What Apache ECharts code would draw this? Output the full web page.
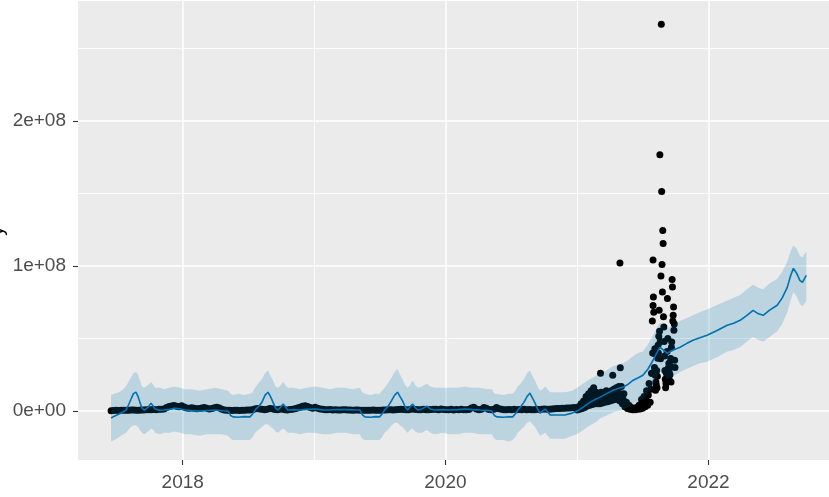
<!DOCTYPE html>
<html><head><meta charset="utf-8">
<script src="https://cdn.jsdelivr.net/npm/echarts@6/dist/echarts.min.js"></script>
<style>html,body{margin:0;padding:0;background:#fff}#c{width:829px;height:497px}</style>
</head><body><div id="c"></div>
<script>
// ---------- DATA (values in millions) ----------
const fcDates = [
'2017-06-16','2017-06-25','2017-07-08','2017-07-20','2017-07-27','2017-08-03','2017-08-10','2017-08-17','2017-08-24','2017-08-30',
'2017-09-04','2017-09-10','2017-09-16','2017-09-27','2017-10-05','2017-10-12','2017-10-16','2017-10-30','2017-11-10','2017-11-25',
'2017-12-09','2017-12-25','2018-01-07','2018-01-25','2018-02-18','2018-03-10','2018-04-01','2018-04-20','2018-05-07','2018-05-14',
'2018-05-21','2018-06-05','2018-06-20','2018-07-07','2018-07-14','2018-07-21','2018-07-30','2018-08-09','2018-08-18','2018-08-26',
'2018-09-02','2018-09-09','2018-09-16','2018-09-23','2018-10-01','2018-10-07','2018-10-13','2018-10-20','2018-11-05','2018-11-23',
'2018-12-10','2019-01-03','2019-01-25','2019-02-14','2019-03-05','2019-03-28','2019-04-18','2019-05-08','2019-05-15','2019-05-22',
'2019-06-08','2019-06-20','2019-07-02','2019-07-09','2019-07-16','2019-07-25','2019-08-04','2019-08-13','2019-08-21','2019-08-28',
'2019-09-04','2019-09-11','2019-09-18','2019-09-25','2019-10-02','2019-10-09','2019-10-16','2019-10-28','2019-11-10','2019-11-20',
'2019-12-02','2019-12-25','2020-01-13','2020-02-05','2020-02-24','2020-03-15','2020-04-06','2020-04-25','2020-05-09','2020-05-16',
'2020-05-23','2020-06-10','2020-06-25','2020-07-06','2020-07-13','2020-07-20','2020-07-28','2020-08-06','2020-08-15','2020-08-23',
'2020-08-30','2020-09-06','2020-09-13','2020-09-20','2020-09-27','2020-10-04','2020-10-11','2020-10-18','2020-11-05','2020-11-28',
'2020-12-18','2021-01-01','2021-01-18','2021-02-05','2021-02-20','2021-03-06','2021-03-24','2021-04-11','2021-04-25','2021-05-09',
'2021-05-23','2021-06-06','2021-06-20','2021-07-03','2021-07-17','2021-07-31','2021-08-10','2021-08-19','2021-08-29','2021-09-08',
'2021-09-24','2021-10-14','2021-11-01','2021-11-19','2021-12-08','2021-12-28','2022-01-25','2022-02-22','2022-03-12','2022-03-30',
'2022-04-18','2022-05-05','2022-05-20','2022-06-02','2022-06-20','2022-07-11','2022-07-25','2022-08-08','2022-08-17','2022-08-25',
'2022-09-03','2022-09-12','2022-09-19','2022-09-30'];
const yhat = [
-4.8,-3.5,-2,-0.5,0.7,4,8,12,13,10,
6,2,0.7,2.7,5.5,3,1.4,0.5,0.7,1.2,
2,1.5,0.7,0.3,0,0.4,0.7,0.2,0,-3,
-4,-4.2,-3.8,-4,-2,0.7,3,6,11,13,
10,6,2,0.7,3,4.8,3,0.7,1,0.7,
1.2,1.4,0.8,0.7,1.1,1,0.8,0.7,-2.5,-4,
-4.3,-3.8,-4,-2,0.7,3,7,11,13,10,
7,3,0.7,3,4.8,2.5,0.7,1.5,3.4,1.5,
0.7,1,0.7,1,1.4,1,0.7,0.5,0,-3,
-4,-4.2,-3.9,-4,-2,0.7,3,6,10,12.4,
9,5.5,1.5,-1.4,0,1.4,-0.5,-2.7,-2.7,-2.7,
-1.4,0,2.7,6,8,9.6,12,14.4,15.5,16.5,
18.5,21.3,23,24.7,29,35,40,44,42,39.9,
41.9,44,46.5,48.8,50.5,52.2,55.5,59.1,60.5,62.5,
66,69.4,67,66,69.5,72.9,78,85.2,93,98.3,
95,90,88.7,93.5];
const yhatLower = [
-21,-20,-18,-16,-15,-13,-11,-10,-10,-11,
-13,-15,-16,-14,-12,-13,-15,-16,-15,-15,
-14,-15,-16,-16,-17,-16,-16,-16,-17,-19,
-20,-20,-20,-20,-18,-15,-13,-11,-9,-9,
-11,-12,-14,-15,-13,-12,-13,-15,-15,-16,
-15,-15,-16,-16,-15,-15,-16,-16,-19,-20,
-20,-20,-20,-18,-15,-13,-10,-8,-8,-10,
-11,-13,-15,-13,-12,-14,-15,-15,-13,-15,
-16,-15,-16,-16,-15,-15,-16,-16,-16,-19,
-20,-20,-21,-20,-18,-15,-13,-11,-8,-7,
-9,-11,-14,-17,-16,-15,-17,-19,-19,-19,
-17,-16,-13,-10,-8,-5,-3,-1,0,1,
3,5,7,8,12,18,23,27,25,22,
24,27,29,31,33,34,37,41,42,44,
48,51,49,48,51,55,60,68,76,82,
79,74,72,76];
const yhatUpper = [
11,12,13,15,17,20,23,26,27,25,
21,17,16,18,20,18,16,16,15,16,
17,16,15,15,14,15,16,15,14,12,
11,12,11,12,13,16,19,22,26,28,
24,21,17,16,18,20,18,16,16,15,
16,17,16,15,16,16,15,16,13,12,
11,12,12,14,16,19,23,27,29,25,
22,18,16,18,21,18,16,17,19,17,
16,16,16,16,17,16,16,15,15,12,
12,11,12,12,14,17,19,22,26,28,
24,21,17,14,15,17,15,13,13,13,
14,16,19,22,24,26,28,31,32,33,
35,38,40,41,46,52,57,61,59,57,
59,62,64,66,68,70,73,76,78,80,
84,87,85,84,88,91,96,103,110,114,
112,107,106,110];

// Observed history, weekly from 2017-06-16 to 2020-12-25 (millions)
const obsWeeklyStart = '2017-06-16';
const obsWeeklyValues = [
0.3,0.4,0.5, 0.4,0.5,0.6,0.5, 0.6,0.7,0.8,0.6, 0.5,0.7,0.8,0.9,1.0, 0.9,1.1,1.0,1.2, 1.3,1.5,2.5,3.2, 3.5,3.8,3.4,3.0,3.6,
2.8,2.2,1.9,2.3, 2.0,1.6,1.8,2.2, 2.4,1.9,1.5,1.7,2.3, 2.6,2.1,1.2,0.8, 0.6,0.5,0.4,0.5, 0.6,0.4,0.5,0.6,0.7, 0.8,1.0,1.4,1.8,
1.5,1.2,1.0,1.3,1.8, 1.6,1.1,0.9,1.2, 1.4,1.0,0.8,1.1, 1.3,1.6,2.1,2.6,3.3, 3.6,3.2,2.4,2.0,
2.6,1.9,1.4,1.2, 1.0,0.9,1.1,0.8, 0.9,0.8,0.7,0.9,1.0, 0.8,0.7,0.6,0.8, 0.7,0.6,0.5,0.6,0.5, 0.6,0.7,0.6,0.5,
0.6,0.7,0.8,0.9, 1.0,0.8,0.9,1.1,1.3, 1.1,0.9,1.0,1.2, 1.4,1.1,0.9,1.0, 1.2,1.0,0.9,1.1,1.3, 1.2,1.0,1.5,1.1,
0.9,1.0,1.2,0.8,1.1, 1.0,1.3,1.0,0.9, 1.1,2.2,2.6,1.4, 1.0,1.2,2.4,2.0, 1.1,0.9,1.3,2.5,1.6, 1.2,1.0,0.9,1.1,
1.0,1.2,0.9,1.1,1.0, 1.2,1.0,1.1,0.9, 1.0,1.3,1.1,1.2, 1.4,1.2,1.3,1.5,1.6, 1.8,1.7,1.9,2.0, 2.2,2.1,2.3,2.4];

// Observed 2021 (millions)
const obs2021Dates = [
'2021-01-01','2021-01-08','2021-01-15','2021-01-22','2021-01-29','2021-02-05','2021-02-12','2021-02-19','2021-02-26','2021-03-05',
'2021-03-12','2021-03-19','2021-03-26','2021-04-02','2021-04-09','2021-04-16','2021-04-23','2021-04-30','2021-05-07','2021-05-14',
'2021-05-21','2021-05-28','2021-06-04','2021-06-11','2021-06-18','2021-06-25','2021-07-02','2021-07-09','2021-07-16','2021-07-23',
'2021-01-03','2021-01-10','2021-01-17','2021-01-24','2021-01-31','2021-02-07','2021-02-14','2021-02-21','2021-02-28','2021-03-07',
'2021-03-14','2021-03-21','2021-03-28','2021-04-04','2021-04-11','2021-04-18','2021-04-25','2021-05-02','2021-05-09','2021-05-16',
'2021-05-23','2021-05-30','2021-06-06','2021-06-13','2021-06-20','2021-06-27','2021-07-04','2021-07-11','2021-07-18','2021-07-25',
'2021-01-05','2021-01-12','2021-01-19','2021-01-26','2021-02-02','2021-02-09','2021-02-16','2021-02-23','2021-03-02','2021-03-09',
'2021-03-16','2021-03-23','2021-03-30','2021-04-06','2021-04-13','2021-04-20','2021-04-27','2021-05-04','2021-05-11','2021-05-18',
'2021-05-25','2021-06-01','2021-06-08','2021-06-15','2021-06-22','2021-06-29','2021-07-06','2021-07-13','2021-07-20','2021-07-27',
'2021-03-07','2021-04-10','2021-05-01','2021-04-30',
'2021-07-28','2021-07-29','2021-07-30','2021-07-31','2021-07-31','2021-08-01','2021-08-02','2021-08-03','2021-08-04','2021-08-05',
'2021-08-06','2021-08-07','2021-08-08','2021-08-09','2021-08-10','2021-08-11','2021-08-12','2021-08-13','2021-08-14','2021-08-15',
'2021-08-16','2021-08-17','2021-08-18','2021-08-19','2021-08-20','2021-08-21','2021-08-22','2021-08-23','2021-08-24','2021-08-25',
'2021-08-26','2021-08-27','2021-08-28','2021-08-29','2021-08-30','2021-08-31','2021-09-01','2021-09-02','2021-09-03','2021-09-04',
'2021-09-05','2021-09-06','2021-09-07','2021-09-08','2021-09-09','2021-09-10','2021-09-11','2021-09-12','2021-09-13','2021-09-14',
'2021-09-15','2021-09-16','2021-09-17','2021-09-18','2021-09-19','2021-09-20','2021-09-21','2021-09-22','2021-09-23','2021-09-24',
'2021-09-25','2021-09-26','2021-09-27','2021-09-28','2021-09-29','2021-09-30'];
const obs2021Values = [
0.8,1.2,1.7,2.5,3.5,4,4.5,5,5,5,
5.5,6,6.5,7,7.5,8,8,7,5,3,
1.7,1.2,1,1,1.2,1.5,2,3,4,6,
1.5,2.5,4,6,7,9,10,9,8.5,9,
9,10,9.5,10.5,11,12,12.5,12,8,4.5,
2.5,1.8,1.5,1.6,2.5,4.5,6,8.5,11,15,
3,5,7,10,12,14,16,13,12,13,
12,14,13,14,15,16,17,17,12,6,
4,2.5,2,2.5,4,8,10,14,19,26,
26,24.7,29.8,102,
26,62,40,104,72.8,78.6,68,39.7,30,43,
24.7,14.4,20,18,28,16,24,36.4,45.4,40,
51.5,69.4,55,176.6,48,36,93,266.5,151.2,101,
82,124.4,115.5,65,58,48,38,28,22,16,
19,26,20,41,77.5,50,23.6,30,33,27,
21,25,31,36.2,20,44,47.6,90.7,85.4,62,
66,71.7,55.7,60,35,30];

const xMajorYears = [2018, 2020, 2022];
const xMinorYears = [2019, 2021];
const yMajorValues = [0, 1e8, 2e8];
const yMinorValues = [5e7, 1.5e8, 2.5e8];
const yTitle = 'y';
const UNIT = 1e6;

// ---------- BUILD ----------
function ts(s){const p=s.split('-');return Date.UTC(+p[0],+p[1]-1,+p[2]);}
const DAY = 86400000;
const obsPoints = [];
const w0 = ts(obsWeeklyStart);
obsWeeklyValues.forEach((v,i)=>obsPoints.push([w0 + i*7*DAY, v*UNIT]));
obs2021Dates.forEach((d,i)=>obsPoints.push([ts(d), obs2021Values[i]*UNIT]));
const lineData = fcDates.map((d,i)=>[ts(d), yhat[i]*UNIT]);
const bandRows = fcDates.map((d,i)=>[ts(d), yhatLower[i]*UNIT, yhatUpper[i]*UNIT]);

const xMin = ts('2017-03-16'), xMax = ts('2022-12-02');
const yMin = -33.7e6, yMax = 282.5e6;
const FONT = 'Liberation Sans, Arial, sans-serif';
const yFmt = v => v===0 ? '0e+00' : (Math.round(v/1e8))+'e+08';

function renderBand(params, api){
  if (params.dataIndex !== 0) return null;
  const pts = [];
  for (let i=0;i<bandRows.length;i++) pts.push(api.coord([bandRows[i][0], bandRows[i][2]]));
  for (let i=bandRows.length-1;i>=0;i--) pts.push(api.coord([bandRows[i][0], bandRows[i][1]]));
  return {type:'polygon', shape:{points:pts}, style:{fill:'rgba(0,114,178,0.2)', stroke:null}};
}

const chart = echarts.init(document.getElementById('c'), null, {renderer:'canvas'});
chart.setOption({
  animation:false,
  grid:{left:78, right:0, top:1, bottom:37, show:true, backgroundColor:'#EBEBEB', borderWidth:0,
        containLabel:false, outerBoundsMode:'none'},
  graphic:[{
    type:'text', x:7, y:231, rotation:Math.PI/2, silent:true,
    style:{text:yTitle, fill:'#000', font:'19px "Liberation Sans", Arial, sans-serif',
           align:'center', verticalAlign:'bottom'}
  }],
  xAxis:[{
    type:'value', min:xMin, max:xMax, scale:true, position:'bottom',
    axisLine:{show:false, onZero:false},
    axisTick:{show:true, length:5, lineStyle:{color:'#333333', width:1.1},
      customValues: xMajorYears.map(y=>Date.UTC(y,0,1))},
    axisLabel:{show:true, customValues: xMajorYears.map(y=>Date.UTC(y,0,1)),
      formatter: v => String(new Date(v).getUTCFullYear()),
      color:'#4D4D4D', fontSize:19, fontFamily:FONT, margin:13},
    splitLine:{show:true, lineStyle:{color:'#FFFFFF', width:1.5}}
  },{
    type:'value', min:xMin, max:xMax, scale:true, position:'bottom',
    axisLine:{show:false, onZero:false}, axisLabel:{show:false},
    axisTick:{show:false, customValues: xMinorYears.map(y=>Date.UTC(y,0,1))},
    splitLine:{show:true, lineStyle:{color:'#FFFFFF', width:0.9}}
  }],
  yAxis:[{
    type:'value', min:yMin, max:yMax, position:'left',
    axisLine:{show:false, onZero:false},
    axisTick:{show:true, length:5, lineStyle:{color:'#333333', width:1.1}, customValues:yMajorValues},
    axisLabel:{show:true, customValues:yMajorValues, formatter:yFmt,
      color:'#4D4D4D', fontSize:19, fontFamily:FONT, margin:12},
    splitLine:{show:true, lineStyle:{color:'#FFFFFF', width:1.5}}
  },{
    type:'value', min:yMin, max:yMax, position:'left',
    axisLine:{show:false, onZero:false}, axisLabel:{show:false},
    axisTick:{show:false, customValues:yMinorValues},
    splitLine:{show:true, lineStyle:{color:'#FFFFFF', width:0.9}}
  }],
  series:[
    {type:'scatter', name:'y', data:obsPoints, symbol:'circle', symbolSize:7,
     itemStyle:{color:'#000000', opacity:1}, silent:true, z:2},
    {type:'line', name:'yhat', data:lineData, showSymbol:false, symbol:'none',
     lineStyle:{color:'#0072B2', width:1.6}, silent:true, z:3},
    {type:'custom', name:'band', data:bandRows, renderItem:renderBand,
     encode:{x:0, y:[1,2]}, silent:true, z:4}
  ]
});
</script>
</body></html>
